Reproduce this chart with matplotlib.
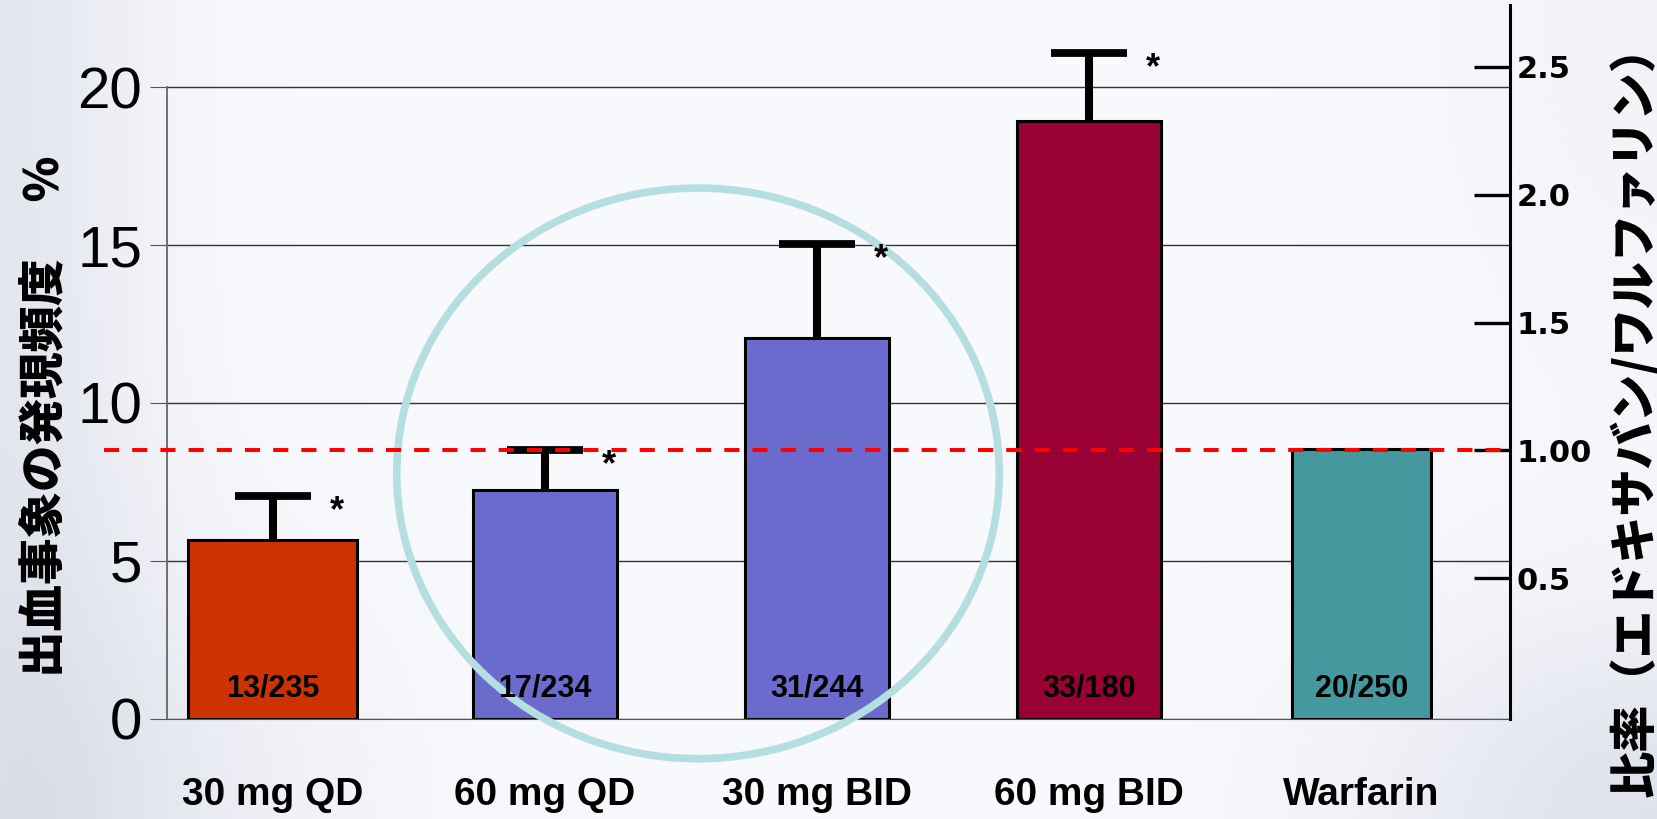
import numpy as np
import matplotlib.pyplot as plt
from matplotlib.patches import Ellipse

categories = ["30 mg QD", "60 mg QD", "30 mg BID", "60 mg BID", "Warfarin"]
rates = [5.65, 7.25, 12.05, 18.95, 8.55]          # bleeding event rate (%)
err_top = [7.05, 8.5, 15.05, 21.1, None]           # upper end of error bar (%)
counts = ["13/235", "17/234", "31/244", "33/180", "20/250"]
stars = [True, True, True, True, False]
colors = ["#CC3300", "#6B6BCD", "#6B6BCD", "#990033", "#45999E"]

ratio_ticks = [0.5, 1.0, 1.5, 2.0, 2.5]
ratio_labels = ["0.5", "1.00", "1.5", "2.0", "2.5"]

# ratio axis: 1.00 sits at the warfarin rate, ~8.1 % per 1.0
ref_rate = 8.5
per_ratio = 8.1

fig = plt.figure(figsize=(16.58, 8.19), dpi=100)

# soft bluish-gray slide background
bg = fig.add_axes([0, 0, 1, 1], zorder=-10)
h, w = 200, 400
yy, xx = np.mgrid[0:1:h * 1j, 0:1:w * 1j]   # yy = 0 at top row
shade = 0.13 * np.exp(-(xx / 0.09) ** 2) \
    + 0.16 * np.exp(-((1 - xx) ** 2 / 0.03 + (1 - yy) ** 2 / 0.06)) \
    + 0.09 * np.exp(-((xx - 0.08) ** 2 / 0.02 + (1 - yy) ** 2 / 0.10)) \
    + 0.04 * np.exp(-((1 - xx) ** 2 / 0.02 + yy ** 2 / 0.3))
base = np.array([0.975, 0.978, 0.99])
tint = np.array([0.60, 0.55, 0.40])
img = base[None, None, :] - shade[:, :, None] * tint[None, None, :]
bg.imshow(np.clip(img, 0, 1), aspect="auto", extent=[0, 1, 0, 1])
bg.axis("off")

ax = fig.add_axes([0.1008, 0.1226, 0.8099, 0.8709])
ax.set_facecolor("none")
x = np.arange(len(categories))
widths = [0.62, 0.53, 0.53, 0.53, 0.51]

ax.bar(x, rates, width=widths, color=colors, edgecolor="black", linewidth=2.2, zorder=2)

cap = 0.14
for i in range(len(categories)):
    if err_top[i] is not None:
        ax.vlines(x[i], rates[i], err_top[i], color="black", linewidth=5.8, zorder=3)
        ax.hlines(err_top[i], x[i] - cap, x[i] + cap, color="black", linewidth=5.6, zorder=3)
        if stars[i]:
            ax.text(x[i] + cap + 0.07, err_top[i] - 0.5, "*", fontsize=26, fontweight="bold",
                    family="Liberation Sans", ha="left", va="center", zorder=6)
    ax.text(x[i], 0.94, counts[i], ha="center", va="center", fontsize=22, fontweight="bold",
            family="Liberation Sans", zorder=6)

ax.set_xlim(-0.388, 4.546)
ax.set_ylim(0, 22.6)
ax.set_yticks([0, 5, 10, 15, 20])
ax.set_yticklabels(["0", "5", "10", "15", "20"], fontsize=42, family="Liberation Sans")
ax.yaxis.grid(True, color="#333333", linewidth=1.0, zorder=0)
ax.tick_params(axis="y", length=12, color="#555555", pad=6)
ax.set_xticks(x)
ax.set_xticklabels(categories, fontsize=28, fontweight="bold", family="Liberation Sans")
ax.tick_params(axis="x", length=0, pad=42)
for s in ["top", "right"]:
    ax.spines[s].set_visible(False)
ax.spines["left"].set_bounds(0, 20)
ax.spines["left"].set_color("#666666")
ax.spines["left"].set_linewidth(1.3)
ax.spines["bottom"].set_color("#555555")

# highlight circle around the 60 mg QD / 30 mg BID arms
ax.add_patch(Ellipse((1.5626, 7.77), 2.214, 18.08, fill=False, edgecolor="#B5DEE0",
                     linewidth=5.5, zorder=4, clip_on=False))

# right ratio axis
ax2 = ax.twinx()
ax2.set_ylim((0 - ref_rate) / per_ratio + 1, (22.6 - ref_rate) / per_ratio + 1)
ax2.set_yticks(ratio_ticks)
ax2.set_yticklabels(ratio_labels, fontsize=22, fontweight="bold")
ax2.tick_params(axis="y", direction="in", length=26, width=2.4, pad=5)
for s in ["top", "left", "bottom"]:
    ax2.spines[s].set_visible(False)
ax2.spines["right"].set_linewidth(2.2)
ax2.plot([-0.62, 4.546], [1.0, 1.0], color="red", linestyle=(0, (3.75, 3.25)), linewidth=2.9,
         clip_on=False, zorder=5)

jp = ["Noto Sans CJK JP", "DejaVu Sans"]
fig.text(0.027, 0.4916, "出血事象の発現頻度　 %", rotation=90, ha="center", va="center",
         fontsize=33.5, fontweight="black", family=jp)
fig.text(0.986, 0.5, "比率（エドキサバン/ワルファリン）", rotation=90, ha="center", va="center",
         fontsize=34, fontweight="black", family=jp)

fig.savefig("out.png", dpi=100)
